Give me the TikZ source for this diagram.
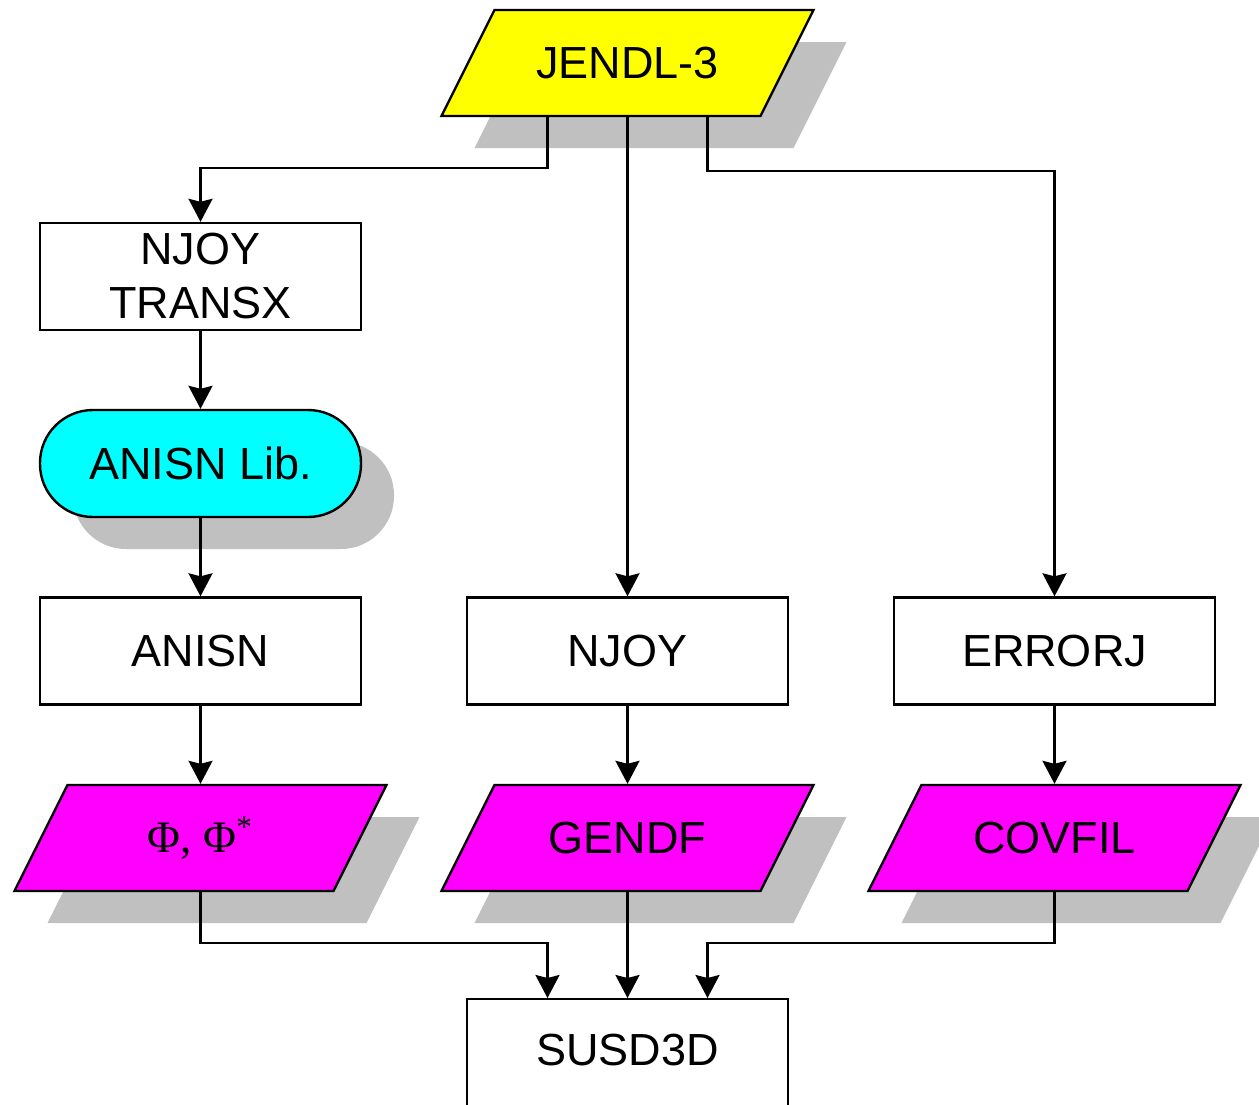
\documentclass[tikz,border=0pt]{standalone}
\usepackage{fontspec}
\setmainfont{Liberation Sans}
\newfontfamily\seriffont{Liberation Serif}
\usetikzlibrary{arrows.meta,calc}
\definecolor{shgray}{HTML}{C0C0C0}
\definecolor{pyellow}{HTML}{FFFF00}
\definecolor{pcyan}{HTML}{00FFFF}
\definecolor{pmagenta}{HTML}{FF00FF}
\newcommand\pgram[5]{%
  \fill[shgray] (#2-100,#3-21) -- (#2+219,#3-21) -- (#2+166,#3+85) -- (#2-153,#3+85) -- cycle;
  \filldraw[fill=#4] (#2-133,#3-53) -- (#2+186,#3-53) -- (#2+133,#3+53) -- (#2-186,#3+53) -- cycle;
  \node[lbl] (#1) at (#2,#3) {#5};
}
\begin{document}
\begin{tikzpicture}[x=0.5pt,y=-0.5pt,
  font=\fontsize{22.5}{27}\selectfont, line width=1.2pt, line join=miter,
  box/.style={draw, fill=white, minimum width=160.5pt, minimum height=53.5pt, align=center, inner sep=0pt},
  lbl/.style={minimum width=160.5pt, minimum height=53pt, inner sep=0pt, align=center},
  arr/.style={-{Stealth[length=11.5pt,width=12pt,inset=1.5pt]}}]
\useasboundingbox (0,0) rectangle (1259,1104);

% top data
\pgram{jendl}{627.5}{63}{pyellow}{JENDL-3}

% left column
\node[box] (njt) at (200.5,276.5) {NJOY\\TRANSX};
\fill[shgray, rounded corners=26.5pt] (73,442) rectangle (394,549);
\node[box, fill=pcyan, rounded corners=26.5pt] (alib) at (200.5,463.5) {ANISN Lib.};
\node[box] (anisn) at (200.5,651) {ANISN};
\node[box] (njoy) at (627.5,651) {NJOY};
\node[box] (errorj) at (1054.5,651) {ERRORJ};

\pgram{phi}{200.5}{838}{pmagenta}{{\seriffont Φ, Φ\textsuperscript{*}}}
\pgram{gendf}{627.5}{838}{pmagenta}{GENDF}
\pgram{covfil}{1054.5}{838}{pmagenta}{COVFIL}

\node[box, anchor=north, minimum height=61pt, text depth=10pt] (susd) at (627.5,998) {SUSD3D};

% connectors
\draw[arr] ($(jendl.south)+(-80,0)$) -- ++(0,51) -| (njt.north);
\draw[arr] (jendl.south) -- (njoy.north);
\draw[arr] ($(jendl.south)+(80,0)$) -- ++(0,54) -| (errorj.north);
\draw[arr] (njt.south) -- (alib.north);
\draw[arr] (alib.south) -- (anisn.north);
\draw[arr] (anisn.south) -- (phi.north);
\draw[arr] (njoy.south) -- (gendf.north);
\draw[arr] (errorj.south) -- (covfil.north);
\draw[arr] (phi.south) -- ++(0,51) -| ($(susd.north)+(-80,0)$);
\draw[arr] (gendf.south) -- (susd.north);
\draw[arr] (covfil.south) -- ++(0,51) -| ($(susd.north)+(80,0)$);
\end{tikzpicture}
\end{document}
